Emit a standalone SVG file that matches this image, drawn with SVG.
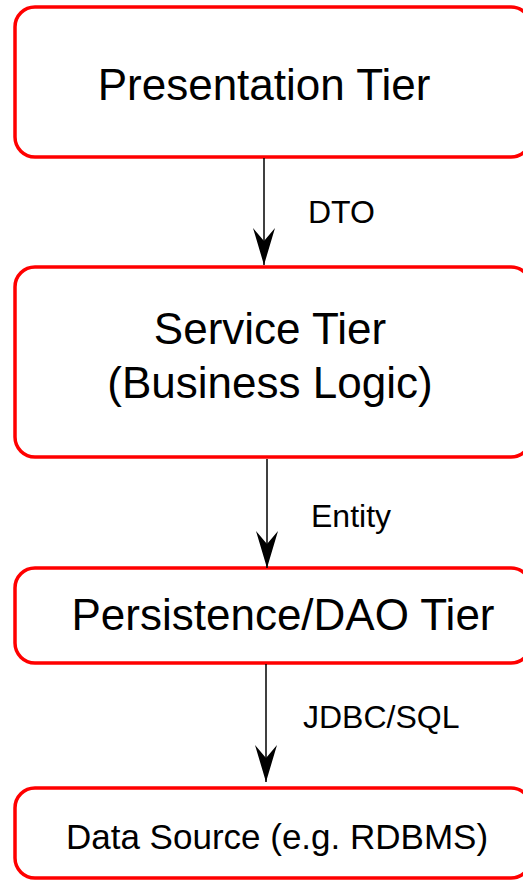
<svg xmlns="http://www.w3.org/2000/svg" width="523" height="880" viewBox="0 0 523 880">
  <style>
    .box { fill: #ffffff; stroke: #ff0000; stroke-width: 3.5; }
    .title { font-family: "Liberation Sans", Arial, sans-serif; font-size: 44px; fill: #000000; text-anchor: middle; }
    .small { font-family: "Liberation Sans", Arial, sans-serif; font-size: 35px; fill: #000000; text-anchor: middle; }
    .label { font-family: "Liberation Sans", Arial, sans-serif; font-size: 32px; fill: #000000; }
    .conn { stroke: #000000; stroke-width: 1.5; fill: none; marker-end: url(#arrow); }
  </style>
  <defs>
    <marker id="arrow" markerUnits="userSpaceOnUse" viewBox="-40 -12 42 24" markerWidth="42" markerHeight="24" refX="0" refY="0" orient="auto" overflow="visible">
      <path d="M0,0 L-37,-11 L-24,0 L-37,11 Z" fill="#000000"/>
    </marker>
  </defs>
  <rect width="523" height="880" fill="#ffffff"/>

  <g id="presentation">
    <rect class="box" x="15" y="7" width="516" height="150" rx="20" ry="20"/>
    <text class="title" x="264" y="100">Presentation Tier</text>
  </g>

  <g id="service">
    <rect class="box" x="15" y="267" width="516" height="190" rx="20" ry="20"/>
    <text class="title" x="270" y="344">Service Tier</text>
    <text class="title" x="270" y="398">(Business Logic)</text>
  </g>

  <g id="persistence">
    <rect class="box" x="15" y="568" width="516" height="95" rx="20" ry="20"/>
    <text class="title" x="283" y="630">Persistence/DAO Tier</text>
  </g>

  <g id="datasource">
    <rect class="box" x="15" y="788" width="516" height="90" rx="20" ry="20"/>
    <text class="small" x="277" y="849">Data Source (e.g. RDBMS)</text>
  </g>

  <g id="connectors">
    <path class="conn" d="M264,158 L264,265"/>
    <text class="label" x="308" y="223">DTO</text>
    <path class="conn" d="M267,459 L267,568"/>
    <text class="label" x="311" y="527">Entity</text>
    <path class="conn" d="M266,664 L266,782"/>
    <text class="label" x="303" y="728">JDBC/SQL</text>
  </g>
</svg>
